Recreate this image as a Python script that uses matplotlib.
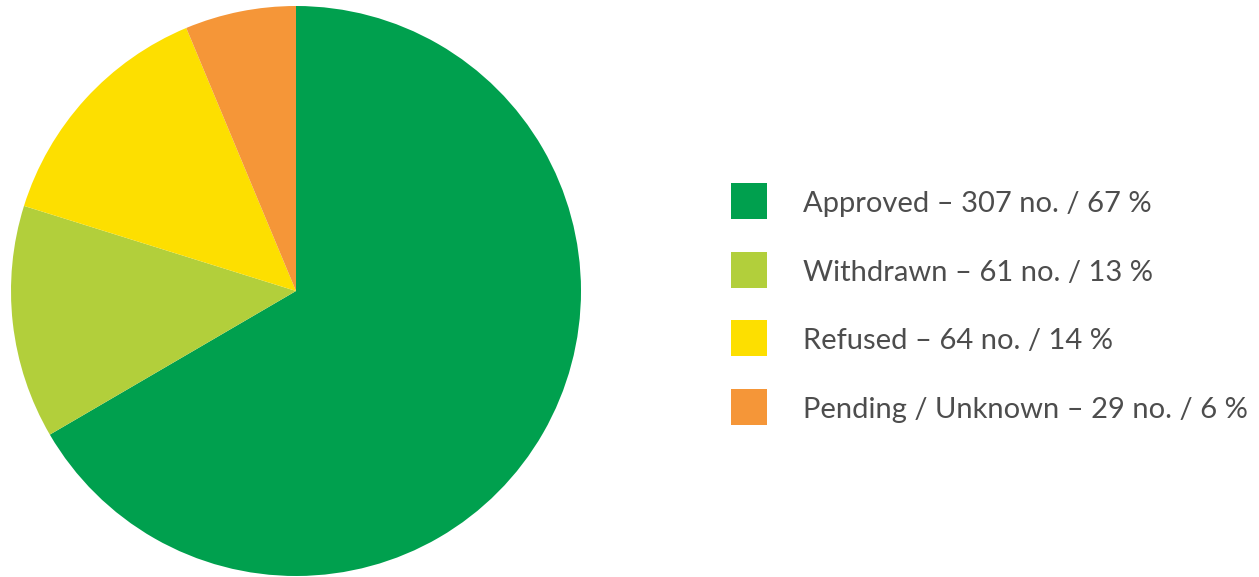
import matplotlib
matplotlib.use("Agg")
import matplotlib.pyplot as plt
from matplotlib.patches import Rectangle

## Data
labels = ['Approved', 'Withdrawn', 'Refused', 'Pending / Unknown']
counts = [307, 61, 64, 29]
pcts = [67, 13, 14, 6]
colors = ['#00A04E', '#B2CF3B', '#FDDF00', '#F59638']

W, H = 1259, 577
fig = plt.figure(figsize=(W/100, H/100), dpi=100)

### Pie
cx, cy, r = 296, 291, 285
ax = fig.add_axes([(cx-r)/W, (H-cy-r)/H, 2*r/W, 2*r/H])
ax.pie(counts, colors=colors, startangle=90, counterclock=False,
       wedgeprops=dict(linewidth=0))
ax.set_aspect('equal')
ax.set_xlim(-1, 1)
ax.set_ylim(-1, 1)
ax.axis('off')

### Legend (manual)
ys = [201, 270, 338, 407]
for lab, n, p, c, y in zip(labels, counts, pcts, colors, ys):
    fig.add_artist(Rectangle((731/W, (H-y-18)/H), 36/W, 36/H,
                             transform=fig.transFigure, facecolor=c, edgecolor='none'))
    fig.text(803/W, (H-y-11)/H, '{} \u2013 {} no. / {} %'.format(lab, n, p),
             ha='left', va='baseline', fontsize=21, color='#4d4d4d', family='Lato')

plt.savefig('out.png', dpi=100)
